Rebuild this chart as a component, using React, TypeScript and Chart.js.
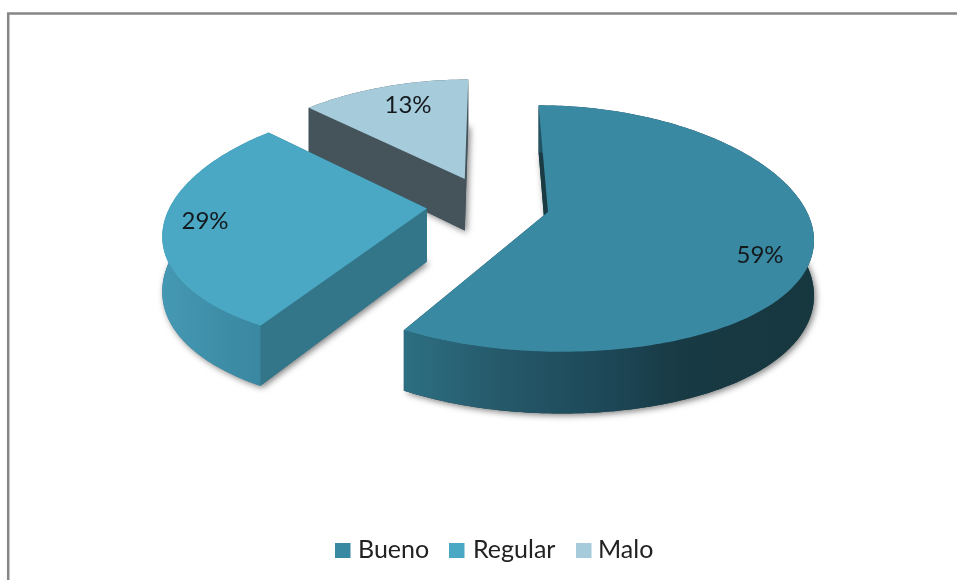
import React, { useEffect, useRef } from "react";
import { Chart, registerables } from "chart.js";

Chart.register(...registerables);

const categories = ["Bueno", "Regular", "Malo"];
const percentages = [59, 29, 13];
const topColors = ["#3a89a3", "#4aa8c4", "#a6cbdb"];
const radialWallColors = ["#1a3b44", "#33768a", "#45535b"];
const outerWallStops: [number, string][][] = [
  [[405, "#2d6f82"], [500, "#25596a"], [610, "#1d4757"], [680, "#183a44"], [815, "#17373f"]],
  [[163, "#4598b3"], [265, "#39869f"]],
  [[300, "#45535b"], [470, "#45535b"]],
];
const labelAt: [number, number][] = [[760, 255], [205, 221], [408, 105]];
const legendBoxX = [335, 449, 576];
const legendTextX = [358, 473, 598];

const view = { cx: 488, cy: 204.5, yScale: 119, perspY: 0.133, perspX: 0.184, explode: 0.24, depth: 53 };

const pie3d = {
  id: "pie3d",
  beforeDatasetsDraw(chart: any) {
    const ctx: CanvasRenderingContext2D = chart.ctx;
    const arcs = chart.getDatasetMeta(0).data;

    // Frame: only the left and top edges are visible in the picture.
    ctx.save();
    ctx.strokeStyle = "#868686";
    ctx.lineWidth = 2.5;
    ctx.beginPath();
    ctx.moveTo(8.2, 580);
    ctx.lineTo(8.2, 13.5);
    ctx.lineTo(957, 13.5);
    ctx.stroke();
    ctx.restore();

    const project = (a: number, b: number, z: number) => ({
      x: view.cx + (arcs[0].outerRadius * a) / (1 - view.perspX * b),
      y: view.cy + (view.yScale * b + z * view.depth) / (1 - view.perspY * b),
    });
    const trace = (pts: { x: number; y: number }[]) => {
      ctx.beginPath();
      pts.forEach((p, i) => (i ? ctx.lineTo(p.x, p.y) : ctx.moveTo(p.x, p.y)));
      ctx.closePath();
    };

    // Back-to-front: Malo, Regular, Bueno.
    for (const i of [2, 1, 0]) {
      const arc = arcs[i];
      const { startAngle, endAngle } = arc;
      const mid = (startAngle + endAngle) / 2;
      const ox = Math.cos(mid) * view.explode;
      const oy = Math.sin(mid) * view.explode;
      const steps = Math.ceil(((endAngle - startAngle) * 180) / Math.PI);
      const rim = (z: number) => {
        const out = [];
        for (let s = 0; s <= steps; s++) {
          const t = startAngle + ((endAngle - startAngle) * s) / steps;
          out.push(project(ox + Math.cos(t), oy + Math.sin(t), z));
        }
        return out;
      };
      const top = rim(0);
      const bottom = rim(1);
      const apexTop = project(ox, oy, 0);
      const apexBottom = project(ox, oy, 1);

      const stops = outerWallStops[i];
      const x0 = stops[0][0];
      const x1 = stops[stops.length - 1][0];
      const gradient = ctx.createLinearGradient(x0, 0, x1, 0);
      stops.forEach(([x, c]) => gradient.addColorStop((x - x0) / (x1 - x0), c));

      // Soft shadow cast by the underside of the block only
      ctx.save();
      ctx.shadowColor = "rgba(0,0,0,0.5)";
      ctx.shadowBlur = 6;
      ctx.shadowOffsetX = 2;
      ctx.shadowOffsetY = 2;
      ctx.fillStyle = radialWallColors[i];
      trace([apexBottom, ...bottom]);
      ctx.fill();
      ctx.restore();

      const walls: [{ x: number; y: number }[], string | CanvasGradient][] = [
        [[apexTop, top[0], bottom[0], apexBottom], radialWallColors[i]],
        [[apexTop, top[steps], bottom[steps], apexBottom], radialWallColors[i]],
        [[...top, ...[...bottom].reverse()], gradient],
      ];
      for (const [pts, fill] of walls) {
        trace(pts);
        ctx.fillStyle = fill;
        ctx.fill();
      }
      trace([apexTop, ...top]);
      ctx.fillStyle = arc.options.backgroundColor;
      ctx.fill();
    }

    ctx.save();
    ctx.fillStyle = "#14191d";
    ctx.font = "24px Lato";
    ctx.textAlign = "center";
    ctx.textBaseline = "middle";
    percentages.forEach((v, i) => ctx.fillText(`${v}%`, labelAt[i][0], labelAt[i][1]));

    // Legend with the tight box-to-text gap of the picture
    ctx.font = "25px Lato";
    ctx.textAlign = "left";
    ctx.textBaseline = "alphabetic";
    categories.forEach((name, i) => {
      ctx.fillStyle = topColors[i];
      ctx.fillRect(legendBoxX[i], 543, 15.5, 15);
      ctx.fillStyle = "#222222";
      ctx.fillText(name, legendTextX[i], 558);
    });
    ctx.restore();
    return false;
  },
};

export default function App() {
  const ref = useRef<HTMLCanvasElement>(null);
  useEffect(() => {
    const chart = new Chart(ref.current!, {
      type: "pie",
      data: {
        labels: categories,
        datasets: [{ data: percentages, backgroundColor: topColors, borderWidth: 0 }],
      },
      options: {
        animation: false,
        responsive: false,
        radius: 256,
        plugins: {
          tooltip: { enabled: false },
          legend: { display: false },
        },
      },
      plugins: [pie3d],
    } as any);
    return () => chart.destroy();
  }, []);
  return (
    <div style={{ position: "fixed", left: 0, top: 0, width: 957, height: 580, background: "#fff" }}>
      <canvas ref={ref} width={957} height={580} style={{ display: "block" }} />
    </div>
  );
}
